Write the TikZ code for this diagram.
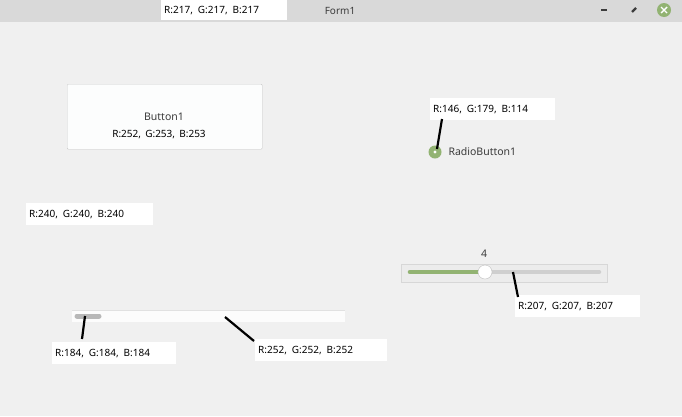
\documentclass[tikz,border=0pt]{standalone}
\usepackage{fontspec}
\setmainfont{Noto Sans}
\definecolor{bg}{RGB}{240,240,240}
\definecolor{title}{RGB}{217,217,217}
\definecolor{green}{RGB}{146,179,114}
\definecolor{track}{RGB}{207,207,207}
\definecolor{thumb}{RGB}{184,184,184}
\definecolor{txt}{RGB}{60,60,60}
\definecolor{btnborder}{RGB}{200,200,200}
\definecolor{btnfill}{RGB}{252,253,253}
\definecolor{sfill}{RGB}{236,236,236}
\definecolor{sborder}{RGB}{215,215,215}
\definecolor{thborder}{RGB}{190,190,190}
\definecolor{scfill}{RGB}{252,252,252}
\definecolor{scline}{RGB}{225,225,225}
\tikzset{lbl/.style={fill=white,inner xsep=3pt,inner ysep=3pt,font=\fontsize{10}{11}\selectfont,text=black,anchor=north west,minimum height=22pt},
 lead/.style={line width=2.2pt,black},
 wtext/.style={font=\fontsize{10.5}{12}\selectfont,text=txt}}
\begin{document}
\begin{tikzpicture}[x=1pt,y=-1pt]
\useasboundingbox (0,0) rectangle (682,416);
\fill[bg] (0,0) rectangle (682,416);
\fill[title] (0,0) rectangle (682,22);
\node[lbl,minimum height=20pt,text width=120pt] (tl) at (161,0) {R:217,\, G:217,\, B:217};
\node[font=\fontsize{10}{11}\selectfont\bfseries,text=txt] (form) at (340,11) {Form1};
\draw[line width=1.5pt,txt] (601,10) -- (607,10);
\draw[line width=2.2pt,txt] (632,12) -- (636,8);
\node[circle,fill=green,minimum size=14pt,inner sep=0pt] (cl) at (664,10) {};
\draw[white,line width=1.4pt] (661,7) -- (667,13) (661,13) -- (667,7);
% Button
\node[draw=btnborder,fill=btnfill,minimum width=195pt,minimum height=65pt,anchor=north west,rounded corners=1pt] (btn) at (67,84) {};
\node[wtext] (bt) at (164,117) {Button1};
\node[font=\fontsize{10}{11}\selectfont] (bc) at (159,135) {R:252,\, G:253,\, B:253};
% Radio
\node[lbl,text width=119pt] (rl) at (430,98) {R:146,\, G:179,\, B:114};
\node[circle,fill=green,minimum size=13pt,inner sep=0pt] (rb) at (435,152) {};
\fill[white] (rb.center) circle (1.6);
\node[wtext,anchor=west] (rt) at (445,152) {RadioButton1};
\draw[lead] (442,119) -- (437,149);
% background label
\node[lbl,text width=121pt] (bgl) at (26,203) {R:240,\, G:240,\, B:240};
% slider
\node[wtext] (four) at (484,254) {4};
\draw[draw=sborder,fill=sfill] (401,264) rectangle (607,282);
\draw[track,line width=4.5pt,line cap=round] (410,272) -- (599,272);
\draw[green,line width=4.5pt,line cap=round] (410,272) -- (485,272);
\node[circle,draw=thborder,fill=white,minimum size=14pt,inner sep=0pt] (th) at (485,272) {};
\node[lbl,text width=119pt] (sl) at (515,295) {R:207,\, G:207,\, B:207};
\draw[lead] (513,272) -- (518,297);
% scrollbar
\fill[scfill] (72,310) rectangle (345,322);
\draw[scline] (72,310.5) -- (345,310.5);
\draw[thumb,line width=5pt,line cap=round] (77,316) -- (99,316);
\node[lbl,text width=118pt] (tl2) at (52,342) {R:184,\, G:184,\, B:184};
\node[lbl,text width=126pt] (sb) at (255,339) {R:252,\, G:252,\, B:252};
\draw[lead] (85,316) -- (82,339);
\draw[lead] (225,317) -- (254,341);
\end{tikzpicture}
\end{document}
